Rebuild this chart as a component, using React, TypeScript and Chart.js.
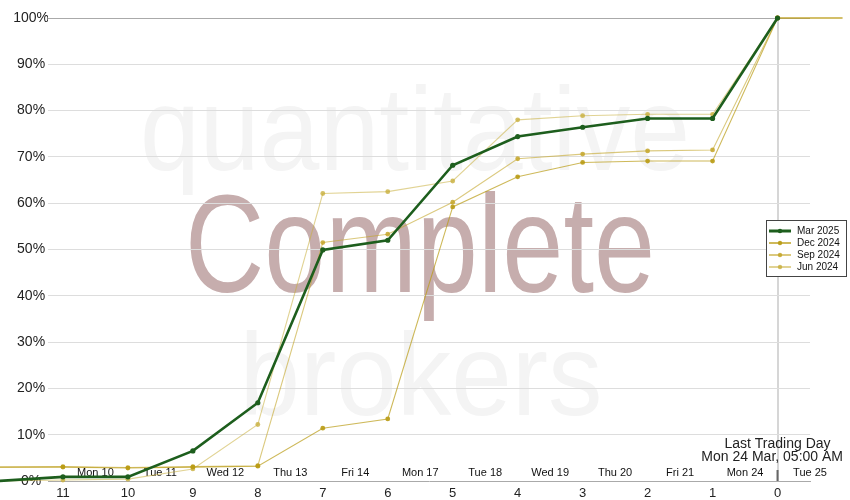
import React, { useEffect, useRef } from "react";
import { Chart, registerables } from "chart.js";

Chart.register(...registerables);

// ---- data ----
const dayOffsets = [12, 11, 10, 9, 8, 7, 6, 5, 4, 3, 2, 1, 0];
const extOffsets = [12, 11, 10, 9, 8, 7, 6, 5, 4, 3, 2, 1, 0, -1];
const mar2025 = [0, 0.9, 0.9, 6.5, 16.9, 49.9, 52.0, 68.2, 74.4, 76.4, 78.3, 78.3, 100];
const dec2024 = [3.0, 3.0, 2.8, 3.0, 3.2, 11.4, 13.4, 59.2, 65.7, 68.8, 69.1, 69.1, 100, 100];
const sep2024 = [3.0, 3.1, 2.9, 3.1, 3.3, 51.5, 53.3, 60.2, 69.6, 70.6, 71.3, 71.5, 100, 100];
const jun2024 = [0, 0.2, 0.4, 2.6, 12.2, 62.1, 62.5, 64.8, 78.0, 78.9, 79.2, 79.2, 100, 100];
const seriesNames = ["Mar 2025", "Dec 2024", "Sep 2024", "Jun 2024"];
const numberTicks = [11, 10, 9, 8, 7, 6, 5, 4, 3, 2, 1, 0];
const dateTicks = [10.5, 9.5, 8.5, 7.5, 6.5, 5.5, 4.5, 3.5, 2.5, 1.5, 0.5, -0.5];
const dateLabels = ["Mon 10", "Tue 11", "Wed 12", "Thu 13", "Fri 14", "Mon 17", "Tue 18", "Wed 19", "Thu 20", "Fri 21", "Mon 24", "Tue 25"];
const yTicks = [0, 10, 20, 30, 40, 50, 60, 70, 80, 90, 100];
const markerDay = 0;
const markerTitle = "Last Trading Day";
const markerDate = "Mon 24 Mar, 05:00 AM";
const watermarkTop = "quantitative";
const watermarkMid = "Complete";
const watermarkBottom = "brokers";

const FONT = '"Liberation Sans", Arial, Helvetica, sans-serif';

function toPoints(xs: number[], ys: number[]) {
  return ys.map((y, i) => ({ x: xs[i], y }));
}

function drawFit(ctx: CanvasRenderingContext2D, text: string, cx: number, baseline: number, size: number, width: number, color: string) {
  ctx.save();
  ctx.font = `${size}px ${FONT}`;
  const w = ctx.measureText(text).width;
  ctx.translate(cx, baseline);
  ctx.scale(width / w, 1);
  ctx.textAlign = "center";
  ctx.textBaseline = "alphabetic";
  ctx.fillStyle = color;
  ctx.fillText(text, 0, 0);
  ctx.restore();
}

const decorPlugin = {
  id: "decor",
  beforeDraw(chart: any) {
    const ctx = chart.ctx as CanvasRenderingContext2D;
    drawFit(ctx, watermarkTop, 415, 170, 118, 550, "#f4f4f4");
    drawFit(ctx, watermarkBottom, 421, 415, 116, 363, "#f4f4f4");
    drawFit(ctx, watermarkMid, 420, 292, 140, 470, "#c6adad");
  },
  afterDatasetsDraw(chart: any) {
    const ctx = chart.ctx as CanvasRenderingContext2D;
    const xs = chart.scales.x;
    const ys = chart.scales.y;
    const px = xs.getPixelForValue(markerDay);
    const bottom = ys.getPixelForValue(0);
    ctx.save();
    ctx.strokeStyle = "#666";
    ctx.lineWidth = 2;
    ctx.beginPath();
    ctx.moveTo(px, bottom - 11);
    ctx.lineTo(px, bottom);
    ctx.stroke();
    ctx.fillStyle = "#222";
    ctx.font = `14px ${FONT}`;
    ctx.textBaseline = "alphabetic";
    const maxRight = chart.width - 7;
    const lines = [markerTitle, markerDate];
    lines.forEach((t, i) => {
      const w = ctx.measureText(t).width;
      let left = px - w / 2;
      if (left + w > maxRight) left = maxRight - w;
      ctx.textAlign = "left";
      ctx.fillText(t, left, bottom - 33 + i * 13);
    });
    ctx.restore();
  },
  afterDraw(chart: any) {
    const ctx = chart.ctx as CanvasRenderingContext2D;
    const left = 766, top = 220, w = 80, h = 56;
    ctx.save();
    ctx.fillStyle = "#fff";
    ctx.fillRect(left, top, w, h);
    ctx.strokeStyle = "#444";
    ctx.lineWidth = 1;
    ctx.strokeRect(left + 0.5, top + 0.5, w, h);
    chart.data.datasets.forEach((ds: any, i: number) => {
      const y = top + 11 + i * 12;
      ctx.strokeStyle = ds.borderColor;
      ctx.lineWidth = i === 0 ? 3 : 2;
      ctx.beginPath();
      ctx.moveTo(left + 3, y);
      ctx.lineTo(left + 25, y);
      ctx.stroke();
      ctx.fillStyle = ds.pointBackgroundColor;
      ctx.beginPath();
      ctx.arc(left + 14, y, 2.2, 0, Math.PI * 2);
      ctx.fill();
      ctx.fillStyle = "#111";
      ctx.font = `10px ${FONT}`;
      ctx.textAlign = "left";
      ctx.textBaseline = "middle";
      ctx.fillText(ds.label, left + 31, y + 0.5);
    });
    ctx.restore();
  },
};

export default function App() {
  const ref = useRef<HTMLCanvasElement | null>(null);
  useEffect(() => {
    document.body.style.margin = "0";
    const canvas = ref.current;
    if (!canvas) return;
    const radius = (r: number) => (c: any) => {
      const x = c.raw ? c.raw.x : 0;
      return x > 11.5 || x < 0 ? 0 : r;
    };
    const chart = new Chart(canvas, {
      type: "line",
      data: {
        datasets: [
          {
            label: seriesNames[0],
            data: toPoints(dayOffsets, mar2025),
            borderColor: "#1d5e1d",
            backgroundColor: "#1d5e1d",
            pointBackgroundColor: "#1d5e1d",
            pointBorderColor: "#1d5e1d",
            borderWidth: 2.6,
            pointRadius: radius(2.6),
            pointBorderWidth: 0,
            clip: false,
          },
          {
            label: seriesNames[1],
            data: toPoints(extOffsets, dec2024),
            borderColor: "rgba(185,155,20,0.7)",
            backgroundColor: "rgba(185,155,20,0.9)",
            pointBackgroundColor: "rgba(185,155,20,0.9)",
            pointBorderColor: "rgba(185,155,20,0.9)",
            borderWidth: 1.1,
            pointRadius: radius(2.4),
            pointBorderWidth: 0,
            clip: false,
          },
          {
            label: seriesNames[2],
            data: toPoints(extOffsets, sep2024),
            borderColor: "rgba(195,165,40,0.6)",
            backgroundColor: "rgba(195,165,40,0.85)",
            pointBackgroundColor: "rgba(195,165,40,0.85)",
            pointBorderColor: "rgba(195,165,40,0.85)",
            borderWidth: 1.1,
            pointRadius: radius(2.4),
            pointBorderWidth: 0,
            clip: false,
          },
          {
            label: seriesNames[3],
            data: toPoints(extOffsets, jun2024),
            borderColor: "rgba(200,175,60,0.55)",
            backgroundColor: "rgba(200,175,60,0.8)",
            pointBackgroundColor: "rgba(200,175,60,0.8)",
            pointBorderColor: "rgba(200,175,60,0.8)",
            borderWidth: 1.1,
            pointRadius: radius(2.4),
            pointBorderWidth: 0,
            clip: false,
          },
        ],
      },
      options: {
        responsive: false,
        animation: false,
        devicePixelRatio: 1,
        layout: { padding: { left: 0, right: 40, top: 18, bottom: 0 } },
        plugins: { legend: { display: false }, tooltip: { enabled: false } },
        elements: { line: { tension: 0 } },
        scales: {
          x: {
            type: "linear",
            reverse: true,
            min: -0.5,
            max: 11.23,
            afterBuildTicks: (s: any) => {
              s.ticks = numberTicks.map((v) => ({ value: v }));
            },
            afterFit: (s: any) => {
              s.height = 19;
            },
            grid: {
              drawTicks: false,
              lineWidth: 2,
              color: (c: any) => (c.tick && c.tick.value === markerDay ? "#d6d6d6" : "rgba(0,0,0,0)"),
            },
            border: { display: true, color: "#aaaaaa", width: 1 },
            ticks: {
              autoSkip: false,
              maxRotation: 0,
              padding: 5,
              color: "#222",
              font: { size: 13, family: FONT },
              callback: (v: any) => String(v),
            },
          },
          x2: {
            type: "linear",
            axis: "x",
            reverse: true,
            min: -0.5,
            max: 11.23,
            position: { y: 3.22 } as any,
            afterBuildTicks: (s: any) => {
              s.ticks = dateTicks.map((v) => ({ value: v }));
            },
            grid: { display: false, drawTicks: false },
            border: { display: false },
            ticks: {
              autoSkip: false,
              maxRotation: 0,
              padding: 0,
              color: "#111",
              font: { size: 11, family: FONT },
              callback: (_v: any, i: number) => dateLabels[i],
            },
          },
          y: {
            type: "linear",
            min: 0,
            max: 100,
            afterBuildTicks: (s: any) => {
              s.ticks = yTicks.map((v) => ({ value: v }));
            },
            afterFit: (s: any) => {
              s.width = 48;
            },
            grid: {
              drawTicks: false,
              lineWidth: 1,
              color: (c: any) => (c.tick && c.tick.value === 100 ? "#aaaaaa" : c.tick && c.tick.value === 0 ? "rgba(0,0,0,0)" : "#dddddd"),
            },
            border: { display: false },
            ticks: {
              crossAlign: "center",
              padding: -1,
              color: "#222",
              font: { size: 14, family: FONT },
              callback: (v: any) => v + "%",
            },
          },
        },
      } as any,
      plugins: [decorPlugin],
    });
    return () => chart.destroy();
  }, []);
  return (
    <div style={{ width: 850, height: 500, position: "relative" }}>
      <canvas ref={ref} width={850} height={500} style={{ display: "block" }} />
    </div>
  );
}
